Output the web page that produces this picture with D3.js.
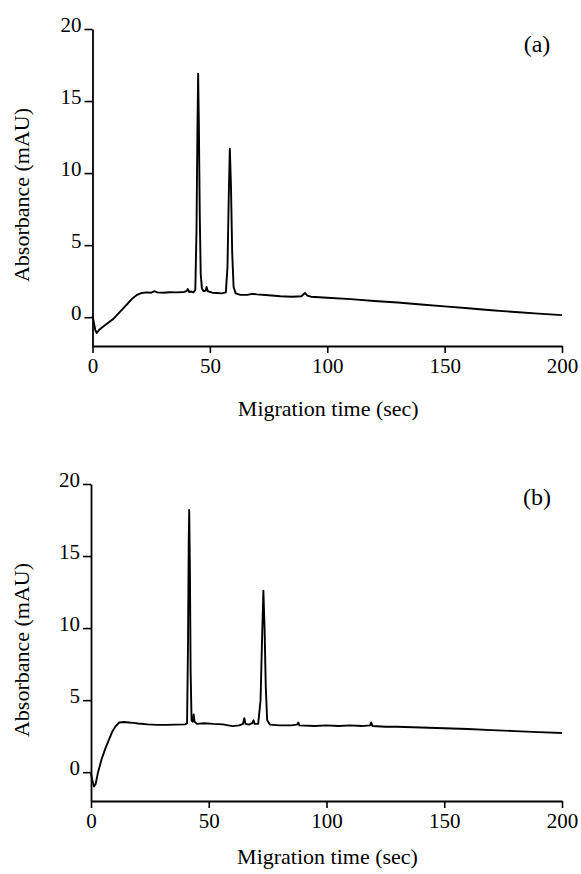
<!DOCTYPE html>
<html>
<head>
<meta charset="utf-8">
<script src="https://cdn.jsdelivr.net/npm/d3@7"></script>
<style>
html,body{margin:0;padding:0;background:#fff;}
svg{display:block;}
svg text{font-family:"Liberation Serif" !important;fill:#000;}
</style>
</head>
<body>
<svg id="chart" width="581" height="874" font-family="Liberation Serif"></svg>
<script>
// ---- data ----
const panelLabels = ["(a)", "(b)"];
const xTicks = [0, 50, 100, 150, 200];
const yTicks = [0, 5, 10, 15, 20];
const xTitle = "Migration time (sec)";
const yTitle = "Absorbance (mAU)";

// panel (a): [time (s), absorbance (mAU)]
const traceA = [
  [0,0.1],[0.5,-0.3],[1.2,-0.9],[1.8,-1.1],[3,-0.85],[5,-0.6],[7,-0.35],[9,-0.1],
  [11,0.25],[13,0.6],[15,0.95],[17,1.3],[19,1.55],[21,1.68],[23,1.72],[25,1.7],
  [26.5,1.8],[27.5,1.72],[30,1.7],[33,1.73],[36,1.72],[39,1.75],[40,1.8],[40.6,1.95],
  [41.2,1.75],[42,1.78],[43,1.72],[43.8,1.9],[44.3,6],[44.7,13],[45.0,16.9],[45.3,13.5],
  [45.7,7],[46.1,3],[46.6,2.0],[47.3,1.8],[48.2,1.85],[48.6,2.1],[49.1,1.8],[51,1.7],
  [53,1.68],[55,1.65],[56.8,1.72],[57.5,3.5],[58.0,8],[58.5,11.7],[59.0,9],[59.5,4.5],
  [60.1,2.1],[61,1.65],[63,1.55],[66,1.55],[68,1.62],[70,1.58],[75,1.52],[80,1.45],
  [85,1.42],[89,1.45],[90.5,1.68],[91.5,1.5],[93,1.42],[100,1.35],[110,1.25],[120,1.12],
  [130,1.02],[140,0.88],[150,0.75],[160,0.62],[170,0.48],[180,0.36],[190,0.25],
  [200,0.14]
];

// panel (b): [time (s), absorbance (mAU)]
const traceB = [
  [0,-0.1],[0.6,-0.6],[1.3,-1.0],[2.0,-0.8],[3,0.0],[4.5,0.9],[6,1.6],[7.5,2.2],
  [9,2.8],[10.5,3.2],[12,3.45],[14,3.48],[16,3.45],[18,3.42],[20,3.38],[24,3.32],
  [28,3.28],[32,3.28],[36,3.3],[40,3.32],[40.8,3.4],[41.2,9],[41.5,16],[41.7,18.2],
  [42.0,14],[42.3,7],[42.7,3.6],[43.2,3.5],[43.6,4.0],[44.0,3.5],[45,3.35],[48,3.4],
  [52,3.35],[56,3.32],[60,3.2],[63,3.25],[64.5,3.35],[65.1,3.75],[65.6,3.35],[67,3.3],
  [68.5,3.4],[69,3.6],[69.5,3.35],[71,3.35],[72.0,5],[72.6,9],[73.2,12.6],[73.7,10],
  [74.2,6],[74.8,3.6],[76,3.3],[80,3.25],[85,3.25],[87.5,3.3],[88,3.45],[88.5,3.25],
  [95,3.2],[100,3.25],[105,3.2],[110,3.25],[115,3.2],[118.5,3.25],[119,3.45],[119.5,3.2],
  [125,3.15],[130,3.15],[140,3.1],[150,3.05],[160,3.0],[170,2.92],[180,2.85],[190,2.78],
  [200,2.72]
];

const traces = [traceA, traceB];

// ---- layout ----
const panels = [
  {x0: 92.5, x1: 562, yTop: 29, yBot: 346, titleY: 416, labelX: 537, labelY: 52, yTitleC: 195},
  {x0: 91, x1: 562, yTop: 484, yBot: 801, titleY: 864, labelX: 537, labelY: 505, yTitleC: 650}
];

const svg = d3.select("#chart");
svg.append("rect").attr("width", 581).attr("height", 874).attr("fill", "#fff");

panels.forEach((p, i) => {
  const x = d3.scaleLinear().domain([0, 200]).range([p.x0, p.x1]);
  const y = d3.scaleLinear().domain([-2, 20]).range([p.yBot, p.yTop]);
  const g = svg.append("g");

  const xa = g.append("g")
    .attr("transform", `translate(0,${p.yBot})`)
    .call(d3.axisBottom(x).tickValues(xTicks).tickFormat(d3.format("d"))
      .tickSize(7).tickSizeOuter(0).tickPadding(5));
  const ya = g.append("g")
    .attr("transform", `translate(${p.x0},0)`)
    .call(d3.axisLeft(y).tickValues(yTicks).tickFormat(d3.format("d"))
      .tickSize(8).tickSizeOuter(0).tickPadding(3));

  [xa, ya].forEach(a => {
    a.attr("font-family", "Liberation Serif").attr("font-size", 21);
    a.select(".domain").attr("stroke", "#000").attr("stroke-width", 1.8);
    a.selectAll(".tick line").attr("stroke", "#000").attr("stroke-width", 1.6);
    a.selectAll(".tick text").attr("fill", "#000");
  });
  ya.selectAll(".tick text").attr("dy", "0.12em");

  g.append("path")
    .datum(traces[i])
    .attr("fill", "none")
    .attr("stroke", "#000")
    .attr("stroke-width", 1.9)
    .attr("stroke-linejoin", "round")
    .attr("d", d3.line().x(d => x(d[0])).y(d => y(d[1])));

  g.append("text")
    .attr("x", (p.x0 + p.x1) / 2 + 1)
    .attr("y", p.titleY)
    .attr("text-anchor", "middle")
    .attr("font-size", 22)
    .text(xTitle);

  g.append("text")
    .attr("transform", `translate(29,${p.yTitleC}) rotate(-90)`)
    .attr("text-anchor", "middle")
    .attr("font-size", 22)
    .text(yTitle);

  g.append("text")
    .attr("x", p.labelX)
    .attr("y", p.labelY)
    .attr("text-anchor", "middle")
    .attr("font-size", 24)
    .text(panelLabels[i]);
});
</script>
</body>
</html>
